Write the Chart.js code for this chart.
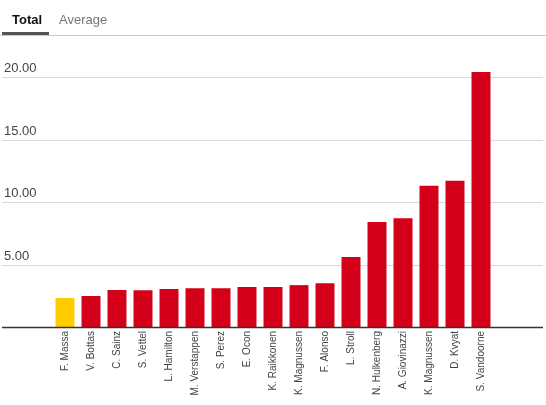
<!DOCTYPE html>
<html lang="en">
  <head>
    <meta charset="UTF-8" />
    <title>Total points per driver</title>
    <style>
      html, body { margin: 0; padding: 0; background: #fff; }
      body { width: 546px; height: 405px; position: relative; overflow: hidden; font-family: 'Liberation Sans', Arial, sans-serif; }
      .tabs { position: absolute; left: 0; top: 0; width: 546px; height: 36px; border-bottom: 1px solid #ccc; box-sizing: border-box; z-index: 2; }
      .tabs .bar { position: absolute; left: 2px; width: 47px; top: 32px; height: 3px; background: #555; }
      .tab { position: absolute; top: 12px; font-size: 13px; }
      .tab.active { left: 12px; font-weight: bold; color: #111; }
      .tab.other { left: 59px; color: #777; }
      .container { position: absolute; left: 0; top: 0; width: 546px; height: 405px; }
    </style>
  </head>
  <body>
    <div class="tabs">
      <span class="tab active">Total</span>
      <span class="tab other">Average</span>
      <div class="bar"></div>
    </div>
    <div class="container">
      <canvas id="myChart"></canvas>
    </div>
    <script src="https://cdn.jsdelivr.net/npm/chart.js@4"></script>
    <script>
      const drivers = [
        'F. Massa', 'V. Bottas', 'C. Sainz', 'S. Vettel', 'L. Hamilton', 'M. Verstappen',
        'S. Perez', 'E. Ocon', 'K. Raikkonen', 'K. Magnussen', 'F. Alonso', 'L. Stroll',
        'N. Hulkenberg', 'A. Giovinazzi', 'K. Magnussen', 'D. Kvyat', 'S. Vandoorne'
      ];
      const totals = [2.32, 2.48, 2.96, 2.94, 3.04, 3.1, 3.1, 3.2, 3.2, 3.35, 3.5, 5.6, 8.4, 8.7, 11.3, 11.7, 20.4];
      const yTicks = [5, 10, 15, 20];
      const highlighted = 'F. Massa';

      const red = '#d40019';
      const yellow = '#ffcc00';

      // horizontal guides run across the whole card, labels sit above each line
      const guides = {
        id: 'guides',
        beforeDatasetsDraw(chart) {
          const ctx = chart.ctx;
          const y = chart.scales.y;
          ctx.save();
          ctx.strokeStyle = '#dadada';
          ctx.lineWidth = 1;
          ctx.fillStyle = '#444';
          ctx.font = '13px "Liberation Sans", Arial, sans-serif';
          ctx.textBaseline = 'alphabetic';
          yTicks.forEach((v) => {
            const py = Math.round(y.getPixelForValue(v)) + 0.5;
            ctx.beginPath();
            ctx.moveTo(2, py);
            ctx.lineTo(543, py);
            ctx.stroke();
            ctx.fillText(v.toFixed(2), 4, py - 6);
          });
          ctx.restore();
        },
        afterDatasetsDraw(chart) {
          const ctx = chart.ctx;
          const py = Math.round(chart.scales.y.getPixelForValue(0)) + 0.5;
          ctx.save();
          ctx.strokeStyle = '#333';
          ctx.lineWidth = 1.5;
          ctx.beginPath();
          ctx.moveTo(2, py);
          ctx.lineTo(543, py);
          ctx.stroke();
          ctx.restore();
        }
      };

      const config = {
        type: 'bar',
        data: {
          labels: drivers,
          datasets: [
            {
              label: 'Total',
              data: totals,
              backgroundColor: drivers.map((d, i) => (i === 0 && d === highlighted ? yellow : red)),
              barPercentage: 0.73,
              categoryPercentage: 1,
            },
          ],
        },
        options: {
          animation: false,
          responsive: true,
          maintainAspectRatio: false,
          layout: { padding: { left: 52, right: 52, top: 52, bottom: 0 } },
          plugins: {
            legend: { display: false },
            tooltip: { enabled: false },
          },
          scales: {
            x: {
              grid: { display: false, drawTicks: false },
              border: { display: false },
              ticks: {
                autoSkip: false,
                maxRotation: 90,
                minRotation: 90,
                padding: 4,
                color: '#444',
                font: { family: '"Liberation Sans", Arial, sans-serif', size: 10 },
              },
              afterFit(scale) {
                scale.height = 78;
              },
            },
            y: {
              display: false,
              min: 0,
              max: 22,
            },
          },
        },
        plugins: [guides],
      };

      new Chart(document.getElementById('myChart'), config);
    </script>
  </body>
</html>
